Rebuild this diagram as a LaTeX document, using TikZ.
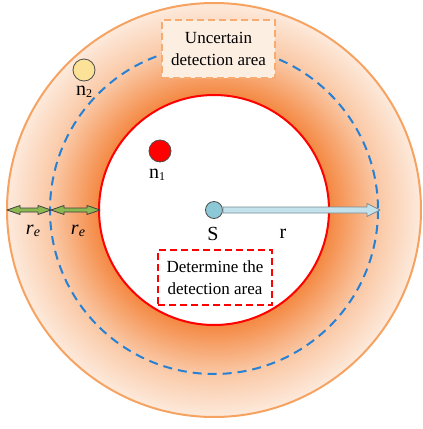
\documentclass[tikz,border=0pt]{standalone}
\usepackage{fontspec}
\setmainfont{Liberation Serif}
\usepackage{tikz}
\usetikzlibrary{positioning, calc}

\definecolor{ringdark}{RGB}{244,136,66}
\definecolor{ringmid}{RGB}{250,200,165}
\definecolor{ringlight}{RGB}{253,234,220}
\definecolor{ringedge}{RGB}{246,163,98}
\definecolor{dashblue}{RGB}{38,128,212}
\definecolor{boxfill}{RGB}{253,238,226}
\definecolor{boxedge}{RGB}{246,172,112}
\definecolor{sfill}{RGB}{140,200,214}
\definecolor{arrfill}{RGB}{196,226,236}
\definecolor{arredge}{RGB}{120,140,150}
\definecolor{refill}{RGB}{140,184,82}
\definecolor{nyellow}{RGB}{252,226,150}

\pgfdeclareradialshading{ringshade}{\pgfpoint{0bp}{0bp}}{%
  color(0bp)=(ringdark); color(13.9bp)=(ringdark);
  color(19.8bp)=(ringmid);
  color(25bp)=(ringlight); color(50bp)=(ringlight)}

\newcommand{\nlab}[1]{n\raisebox{-1.5pt}{\fontsize{12}{12}\selectfont #1}}
\newcommand{\relab}{\textit{r}\raisebox{-2pt}{\fontsize{14}{14}\selectfont\textit{e}}}

\begin{document}
\begin{tikzpicture}[
  x=1pt, y=-1pt,
  txt/.style={font=\fontsize{17}{22}\selectfont},
  lab/.style={font=\fontsize{20}{22}\selectfont, inner sep=1pt},
  dot/.style={circle, draw=black!70, line width=0.8pt, minimum size=22pt, inner sep=0pt},
  areabox/.style={txt, align=center, line width=1.5pt, inner sep=0pt},
  fatarrow/.style={draw=arredge, fill=arrfill, line width=0.8pt, line join=round},
  rearrow/.style={draw=black!75, fill=refill, line width=0.8pt, line join=round}
]
\useasboundingbox (0,0) rectangle (423,429);

% rings
\coordinate (c) at (214,210);
\shade[shading=ringshade] (c) circle (207);
\draw[ringedge, line width=2pt] (c) circle (207);
\filldraw[fill=white, draw=red, line width=2pt] (c) circle (115);
\draw[dashblue, line width=2pt, dash pattern=on 9pt off 6pt] (c) circle (164);

% labelled areas
\node[areabox, draw=boxedge, fill=boxfill, dash pattern=on 7pt off 4pt,
  minimum width=113pt, minimum height=58pt] (uncert) at (218.5,49)
  {Uncertain\\detection area};
\node[areabox, draw=red, dash pattern=on 7pt off 4pt,
  minimum width=114pt, minimum height=55pt] (determ) at (215,277.5)
  {Determine the\\detection area};

% sensor and radius
\coordinate (tip) at (380,210);
\node[dot, fill=sfill, minimum size=17pt] (s) at (c) {};
\draw[fatarrow] ($(s.east)+(0,-3)$) -- ($(tip)+(-13,-3)$) -- ($(tip)+(-13,-6.5)$)
  -- (tip) -- ($(tip)+(-13,6.5)$) -- ($(tip)+(-13,3)$) -- ($(s.east)+(0,3)$) -- cycle;
\node[lab] (slab) at (213,234) {S};
\node[lab] (rlab) at (283,234) {r};

% nodes
\node[dot, fill=red] (n1) at (160,151) {};
\node[lab] (n1lab) at (157,175) {\nlab{1}};
\node[dot, fill=nyellow] (n2) at (84,70) {};
\node[lab] (n2lab) at (84,92) {\nlab{2}};

% width of the rings
\coordinate (ra) at (7,210);
\coordinate (rb) at (51,210);
\coordinate (rc) at (100,210);
\draw[rearrow] (ra) -- ++(13,-4.5) -- ++(0,2.5) -- ($(rb)+(-13,-2)$) -- ++(0,-2.5)
  -- (rb) -- ++(-13,4.5) -- ++(0,-2.5) -- ($(ra)+(13,2)$) -- ++(0,2.5) -- cycle;
\draw[rearrow] (rb) -- ++(13,-4.5) -- ++(0,2.5) -- ($(rc)+(-13,-2)$) -- ++(0,-2.5)
  -- (rc) -- ++(-13,4.5) -- ++(0,-2.5) -- ($(rb)+(13,2)$) -- ++(0,2.5) -- cycle;
\node[lab] (re1) at (33,231) {\relab};
\node[lab] (re2) at (78,231) {\relab};
\end{tikzpicture}
\end{document}
